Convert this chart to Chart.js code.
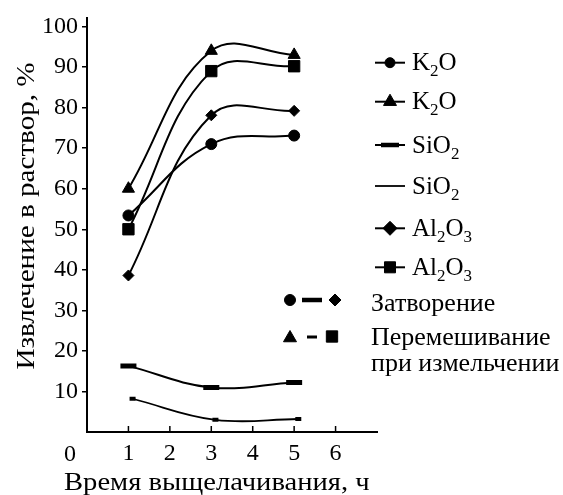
<!DOCTYPE html>
<html>
<head>
<meta charset="utf-8">
<script src="https://cdn.jsdelivr.net/npm/chart.js@4/dist/chart.umd.min.js"></script>
<style>
  html, body { margin: 0; background: #fff; }
  #wrap { width: 563px; height: 495px; }
</style>
</head>
<body>
<div id="wrap"><canvas id="chart"></canvas></div>
<script>
// hours of leaching
const hours = [1, 3, 5];
const hoursSiO2Mix = [1.1, 3.1, 5.1];

// extraction into solution, %
const k2oSetting = [53.4, 71, 73.1];
const k2oMixing = [60, 94, 93];
const sio2Setting = [16.3, 11, 12.2];
const sio2Mixing = [8.2, 3, 3.2];
const al2o3Setting = [38.6, 78.1, 79.2];
const al2o3Mixing = [50, 89, 90.2];

const xTicks = [1, 2, 3, 4, 5, 6];
const yTicks = [10, 20, 30, 40, 50, 60, 70, 80, 90, 100];

const seriesNames = ['K2O', 'K2O', 'SiO2', 'SiO2', 'Al2O3', 'Al2O3'];
const methodNames = ['Затворение', 'Перемешивание', 'при измельчении'];
const xTitle = 'Время выщелачивания, ч';
const yTitle = 'Извлечение в раствор, %';

const FONT = '"Liberation Serif", "Times New Roman", serif';

function pts(xs, ys) {
  return xs.map((x, i) => ({ x: x, y: ys[i] }));
}

function series(label, xs, ys, style, radius, extra) {
  return Object.assign({
    label: label,
    data: pts(xs, ys),
    borderColor: '#000',
    backgroundColor: '#000',
    borderWidth: 2,
    pointStyle: style,
    pointRadius: radius,
    pointBorderWidth: 1,
    tension: 0.4,
    fill: false
  }, extra || {});
}

const datasets = [
  series(seriesNames[0], hours, k2oSetting, 'circle', 5.5),
  series(seriesNames[1], hours, k2oMixing, 'triangle', 7),
  series(seriesNames[2], hours, sio2Setting, 'line', 8, { pointBorderWidth: 5 }),
  series(seriesNames[3], hoursSiO2Mix, sio2Mixing, 'line', 3, { pointBorderWidth: 4, borderWidth: 1.8 }),
  series(seriesNames[4], hours, al2o3Setting, 'rectRot', 5.5),
  series(seriesNames[5], hours, al2o3Mixing, 'rect', 8)
];

// legend look: marker radius and marker line width per series
const legendRows = [62.7, 101.7, 145, 186, 228.3, 267.3];
const legendMarks = [
  { r: 5, bw: 1 }, { r: 7.5, bw: 1 }, { r: 9, bw: 4.5 },
  null, { r: 7, bw: 1 }, { r: 7.8, bw: 1 }
];

// text with digits as subscripts (K2O -> K₂O)
function chemText(ctx, str, x, y, size) {
  for (const ch of str) {
    const sub = /\d/.test(ch);
    ctx.font = (sub ? Math.round(size * 0.68) : size) + 'px ' + FONT;
    ctx.fillText(ch, x, y + (sub ? 6 : 0));
    x += ctx.measureText(ch).width;
  }
}

function wideText(ctx, str, x, y, sx) {
  ctx.save();
  ctx.translate(x, y);
  ctx.scale(sx, 1);
  ctx.fillText(str, 0, 0);
  ctx.restore();
}

const extras = {
  id: 'extras',
  afterDraw(chart) {
    const ctx = chart.ctx;
    const xs = chart.scales.x;
    const area = chart.chartArea;
    const mark = (style, r, bw, x, y) => {
      ctx.lineWidth = bw;
      Chart.helpers.drawPoint(ctx, { pointStyle: style, radius: r, rotation: 0, borderWidth: bw }, x, y);
    };
    ctx.save();
    ctx.fillStyle = '#000';
    ctx.strokeStyle = '#000';
    ctx.lineCap = 'butt';

    // inward ticks on the time axis
    ctx.lineWidth = 1.5;
    xTicks.forEach(v => {
      const px = xs.getPixelForValue(v);
      ctx.beginPath();
      ctx.moveTo(px, area.bottom);
      ctx.lineTo(px, area.bottom - 6);
      ctx.stroke();
    });

    // origin label
    ctx.font = '24px ' + FONT;
    ctx.textAlign = 'center';
    ctx.textBaseline = 'alphabetic';
    ctx.fillText('0', 70, 461);

    // axis titles
    ctx.font = '26px ' + FONT;
    ctx.textAlign = 'left';
    wideText(ctx, xTitle, 64, 490, 1.1);
    ctx.save();
    ctx.translate(34, 216);
    ctx.rotate(-Math.PI / 2);
    ctx.textAlign = 'center';
    wideText(ctx, yTitle, 0, 0, 1.12);
    ctx.restore();

    // legend of series
    chart.data.datasets.forEach((ds, i) => {
      const y = legendRows[i];
      ctx.lineWidth = ds.borderWidth;
      ctx.beginPath();
      ctx.moveTo(375, y);
      ctx.lineTo(405, y);
      ctx.stroke();
      const m = legendMarks[i];
      if (m) mark(ds.pointStyle, m.r, m.bw, 390, y);
      ctx.textAlign = 'left';
      chemText(ctx, ds.label, 412, y + 7.5, 25);
    });

    // legend of methods
    mark('circle', 5.5, 1, 290, 300);
    mark('line', 10, 4.5, 312, 300);
    mark('rectRot', 6, 1, 335, 300);
    mark('triangle', 7.5, 1, 290, 338);
    mark('line', 5, 3, 312, 337);
    mark('rect', 8, 1, 332, 336.5);
    ctx.font = '26px ' + FONT;
    ctx.textAlign = 'left';
    ctx.fillText(methodNames[0], 371, 311);
    ctx.fillText(methodNames[1], 371, 345);
    ctx.fillText(methodNames[2], 371, 371);
    ctx.restore();
  }
};

new Chart(document.getElementById('chart'), {
  type: 'line',
  data: { datasets: datasets },
  options: {
    responsive: true,
    maintainAspectRatio: false,
    animation: false,
    layout: { padding: { top: 15, right: 186, left: 0, bottom: 0 } },
    plugins: { legend: { display: false }, tooltip: { enabled: false } },
    scales: {
      x: {
        type: 'linear',
        min: 0,
        max: 7,
        afterBuildTicks: s => { s.ticks = xTicks.map(v => ({ value: v })); },
        afterFit: s => { s.height = 63; },
        grid: { display: true, drawOnChartArea: false, drawTicks: false },
        border: { color: '#000', width: 2 },
        ticks: { color: '#000', font: { family: FONT, size: 24 }, padding: 7, maxRotation: 0, autoSkip: false }
      },
      y: {
        min: 0,
        max: 102,
        afterBuildTicks: s => { s.ticks = yTicks.map(v => ({ value: v })); },
        afterFit: s => { s.width = 87; },
        grid: { drawOnChartArea: false, tickLength: 5, color: '#000', lineWidth: 1.5 },
        border: { color: '#000', width: 2 },
        ticks: { color: '#000', font: { family: FONT, size: 24 }, padding: 4 }
      }
    }
  },
  plugins: [extras]
});
</script>
</body>
</html>
